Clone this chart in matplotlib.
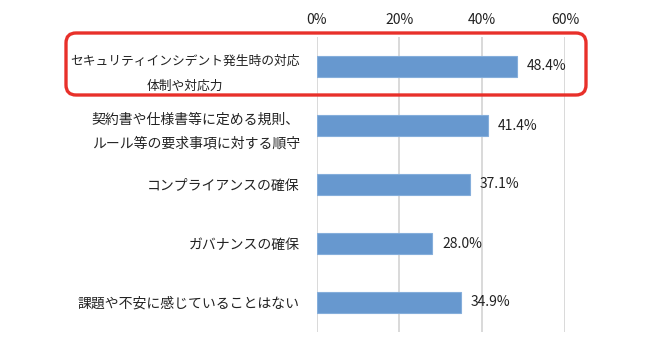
import matplotlib

matplotlib.use("Agg")
import matplotlib.pyplot as plt
from matplotlib.patches import FancyBboxPatch

plt.rcParams["font.family"] = ["Noto Sans CJK JP", "DejaVu Sans"]

CATEGORIES = [
    "セキュリティインシデント発生時の対応\n体制や対応力",
    "契約書や仕様書等に定める規則、\nルール等の要求事項に対する順守",
    "コンプライアンスの確保",
    "ガバナンスの確保",
    "課題や不安に感じていることはない",
]
VALUES = [48.4, 41.4, 37.1, 28.0, 34.9]
TICKS = [0, 20, 40, 60]

BAR_COLOR = "#6798cf"
BAR_EDGE = "#85aedb"
GRID_COLOR = "#d9d9d9"
TEXT_COLOR = "#222222"

W, H = 669, 350
fig = plt.figure(figsize=(W / 100, H / 100), dpi=100)
ax = fig.add_axes([316.5 / W, 1 - 332 / H, (565 - 316.5) / W, (332 - 37) / H])

y = list(range(len(CATEGORIES)))
ax.barh(y, VALUES, height=0.34, color=BAR_COLOR, edgecolor=BAR_EDGE, linewidth=0.8, zorder=3)

for yi, v in zip(y, VALUES):
    ax.annotate(f"{v:.1f}%", (v, yi), xytext=(7, 0), textcoords="offset points",
                va="center", ha="left", fontsize=10, color=TEXT_COLOR)

ax.set_xlim(0, 60)
ax.set_ylim(len(CATEGORIES) - 0.5, -0.5)
ax.set_xticks(TICKS)
ax.set_xticklabels([f"{t}%" for t in TICKS], fontsize=10, color=TEXT_COLOR)
ax.xaxis.tick_top()
ax.tick_params(axis="x", length=0, pad=7)
ax.set_yticks(y)
ax.set_yticklabels(CATEGORIES, fontsize=10, color=TEXT_COLOR, linespacing=1.85)
for lbl in ax.get_yticklabels():
    lbl.set_multialignment("center")
first = ax.get_yticklabels()[0]
first.set_fontsize(9.2)
first.set_linespacing(2.15)
ax.tick_params(axis="y", length=0, pad=12)
for spine in ax.spines.values():
    spine.set_visible(False)
ax.grid(axis="x", color=GRID_COLOR, linewidth=1.4, zorder=0)

# highlight frame around the first item
frame = FancyBboxPatch((0.66, 2.55), 5.20, 0.62, boxstyle="round,pad=0,rounding_size=0.1",
                       transform=fig.dpi_scale_trans, fill=False,
                       edgecolor="#e8302a", linewidth=2.4, zorder=10)
fig.patches.append(frame)

fig.savefig("out.png", dpi=100, facecolor="white")
